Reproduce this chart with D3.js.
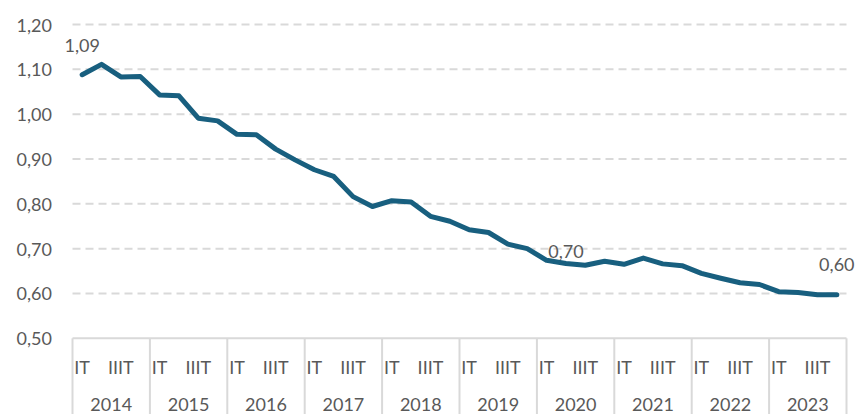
<!DOCTYPE html>
<html>
<head>
<meta charset="utf-8">
<script src="https://cdn.jsdelivr.net/npm/d3@7"></script>
<style>
  html, body { margin: 0; padding: 0; background: #fff; }
  svg { display: block; }
  text { font-family: Lato, "Open Sans", sans-serif; fill: #595959; }
</style>
</head>
<body>
<svg id="chart" width="857" height="414"></svg>
<script>
// ---- data ----
const years = ["2014","2015","2016","2017","2018","2019","2020","2021","2022","2023"];
const quarters = ["IT","IIT","IIIT","IVT"];
const values = [
  1.088, 1.111, 1.083, 1.084,
  1.043, 1.041, 0.991, 0.985,
  0.955, 0.954, 0.922, 0.898,
  0.876, 0.861, 0.816, 0.794,
  0.807, 0.804, 0.772, 0.761,
  0.742, 0.736, 0.710, 0.700,
  0.674, 0.667, 0.663, 0.672,
  0.665, 0.679, 0.666, 0.662,
  0.645, 0.634, 0.624, 0.620,
  0.604, 0.602, 0.597, 0.597
];
const yTicks = [0.5, 0.6, 0.7, 0.8, 0.9, 1.0, 1.1, 1.2];
const labelIdx = [0, 25, 39];
const labelText = ["1,09", "0,70", "0,60"];

// ---- layout ----
const W = 857, H = 414;
const mLeft = 72.5, mRight = 846.5, mTop = 24.5, mBottom = 338.3;
const FS = 18;
const svg = d3.select("#chart");

const cats = values.map((v, i) => i);
const x = d3.scaleBand().domain(cats).range([mLeft, mRight]).paddingInner(0).paddingOuter(0);
const y = d3.scaleLinear().domain([0.5, 1.2]).range([mBottom, mTop]);
const fmt = v => d3.format(".2f")(v).replace(".", ",");

// gridlines
svg.append("g").selectAll("line")
  .data(yTicks.filter(t => t > 0.5))
  .join("line")
  .attr("x1", mLeft).attr("x2", mRight)
  .attr("y1", d => y(d)).attr("y2", d => y(d))
  .attr("stroke", "#d9d9d9").attr("stroke-width", 2)
  .attr("stroke-dasharray", "8,5");

// y tick labels
svg.append("g").selectAll("text")
  .data(yTicks)
  .join("text")
  .attr("x", 52).attr("y", d => y(d))
  .attr("text-anchor", "end").attr("dominant-baseline", "central")
  .attr("font-size", FS)
  .text(d => fmt(d));

// x axis line
svg.append("line")
  .attr("x1", mLeft).attr("x2", mRight)
  .attr("y1", mBottom).attr("y2", mBottom)
  .attr("stroke", "#d9d9d9").attr("stroke-width", 2);

// year separators
const yearBounds = d3.range(years.length + 1).map(k => k === years.length ? mRight : x(k * 4));
svg.append("g").selectAll("line")
  .data(yearBounds)
  .join("line")
  .attr("x1", d => d).attr("x2", d => d)
  .attr("y1", mBottom).attr("y2", H)
  .attr("stroke", "#d9d9d9").attr("stroke-width", 2);

// quarter labels (every other shown)
svg.append("g").selectAll("text")
  .data(cats.filter(i => i % 2 === 0))
  .join("text")
  .attr("x", i => x(i) + x.bandwidth() / 2)
  .attr("y", 367)
  .attr("text-anchor", "middle").attr("dominant-baseline", "central")
  .attr("font-size", FS)
  .text(i => quarters[i % 4]);

// year labels
svg.append("g").selectAll("text")
  .data(years)
  .join("text")
  .attr("x", (d, k) => (x(k * 4) + x(k * 4 + 3) + x.bandwidth()) / 2)
  .attr("y", 404)
  .attr("text-anchor", "middle").attr("dominant-baseline", "central")
  .attr("font-size", FS)
  .text(d => d);

// line
const line = d3.line()
  .x((d, i) => x(i) + x.bandwidth() / 2)
  .y(d => y(d));
svg.append("path")
  .datum(values)
  .attr("d", line)
  .attr("fill", "none")
  .attr("stroke", "#185f7f")
  .attr("stroke-width", 5)
  .attr("stroke-linejoin", "round")
  .attr("stroke-linecap", "round");

// data labels
const labelDy = [-30, -12, -31];
svg.append("g").selectAll("text")
  .data(labelIdx)
  .join("text")
  .attr("x", i => x(i) + x.bandwidth() / 2)
  .attr("y", (i, k) => y(values[i]) + labelDy[k])
  .attr("text-anchor", "middle").attr("dominant-baseline", "central")
  .attr("font-size", FS)
  .text((i, k) => labelText[k]);
</script>
</body>
</html>
